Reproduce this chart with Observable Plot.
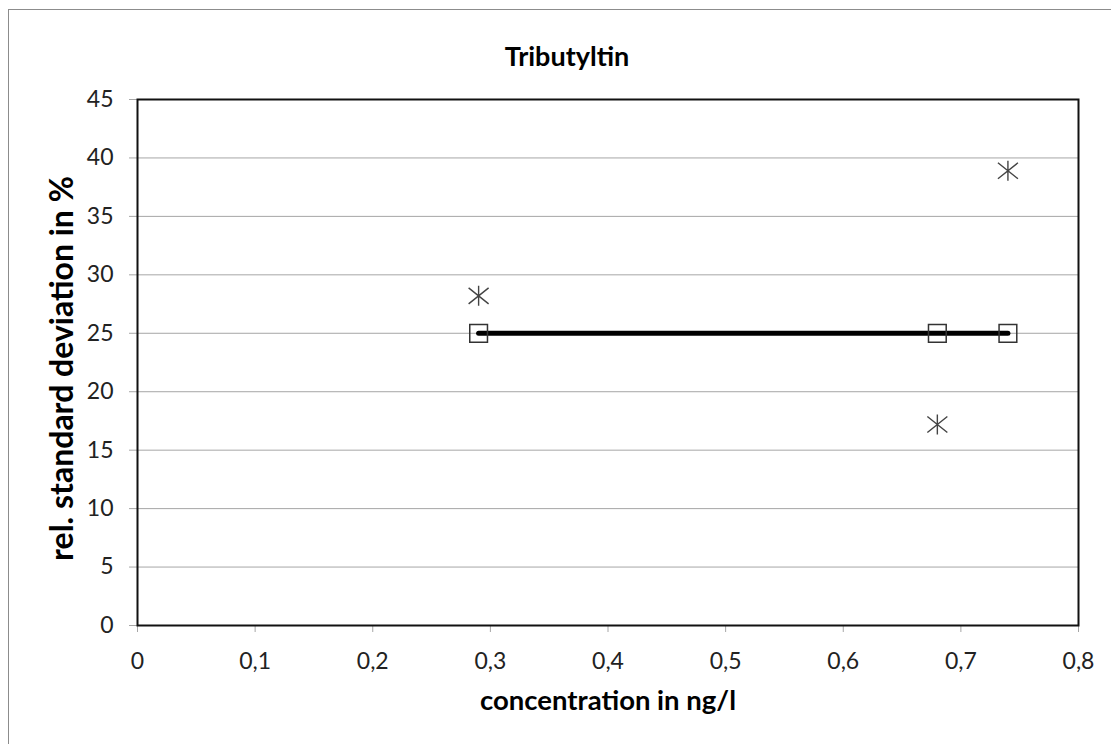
<!DOCTYPE html>
<html>
<head>
<meta charset="utf-8">
<script src="https://cdn.jsdelivr.net/npm/d3@7"></script>
<script src="https://cdn.jsdelivr.net/npm/@observablehq/plot@0.6"></script>
<style>
  html, body { margin: 0; padding: 0; background: #fff; overflow: hidden; }
  #wrap { position: relative; width: 1111px; height: 744px; }
  #border { position: absolute; left: 8px; top: 9px; width: 1200px; height: 900px; border: 1px solid #8c8c8c; box-sizing: border-box; pointer-events: none; }
  svg { display: block; }
</style>
</head>
<body>
<div id="wrap"><div id="border"></div><div id="chart"></div></div>
<script>
// Data
const title = "Tributyltin";
const xLabel = "concentration in ng/l";
const yLabel = "rel. standard deviation in %";
const concentrations = [0.29, 0.68, 0.74];
const rsdValues = [28.2, 17.2, 38.9];
const targetValues = [25, 25, 25];
const xTicks = [0, 0.1, 0.2, 0.3, 0.4, 0.5, 0.6, 0.7, 0.8];
const yTicks = [0, 5, 10, 15, 20, 25, 30, 35, 40, 45];

const rsdData = concentrations.map((c, i) => ({x: c, y: rsdValues[i]}));
const targetData = concentrations.map((c, i) => ({x: c, y: targetValues[i]}));

// Excel-like star marker: vertical line + X
const star = {
  draw(ctx, size) {
    const r = Math.sqrt(size / Math.PI);
    ctx.moveTo(0, -r); ctx.lineTo(0, r);
    ctx.moveTo(-r, -r * 0.8); ctx.lineTo(r, r * 0.8);
    ctx.moveTo(-r, r * 0.8); ctx.lineTo(r, -r * 0.8);
  }
};

const fmt = d => String(d).replace(".", ",");
const font = "Lato, 'Open Sans', sans-serif";

const chart = Plot.plot({
  width: 1111,
  height: 744,
  marginLeft: 137,
  marginRight: 33,
  marginTop: 99,
  marginBottom: 119,
  style: {fontFamily: font, fontSize: "23px", color: "#222", background: "transparent"},
  x: {domain: [0, 0.8]},
  y: {domain: [0, 45]},
  marks: [
    Plot.gridY(yTicks, {stroke: "#a6a6a6", strokeOpacity: 1, strokeWidth: 1}),
    Plot.axisX(xTicks, {tickFormat: fmt, tickSize: 7, tickPadding: 20, stroke: "#a6a6a6", fill: "#222", label: null, fontSize: 23}),
    Plot.axisY(yTicks, {tickFormat: d => String(d), tickSize: 8, tickPadding: 16, stroke: "#a6a6a6", fill: "#222", label: null, fontSize: 23}),
    Plot.frame({stroke: "#111", strokeWidth: 2}),
    Plot.line(targetData, {x: "x", y: "y", stroke: "#000", strokeWidth: 5}),
    Plot.dot(targetData, {x: "x", y: "y", symbol: "square", r: 10, stroke: "#333", strokeWidth: 1.5, fill: "none"}),
    Plot.dot(rsdData, {x: "x", y: "y", symbol: star, r: 10, stroke: "#444", strokeWidth: 1.4, fill: "none"}),
    Plot.text([title], {text: d => d, frameAnchor: "top", dx: -41, dy: -53, textAnchor: "middle", fontWeight: "bold", fontSize: 27, fill: "#000"}),
    Plot.text([xLabel], {text: d => d, frameAnchor: "bottom", dy: 84, textAnchor: "middle", fontWeight: "bold", fontSize: 27.5, fill: "#000"}),
    Plot.text([yLabel], {text: d => d, frameAnchor: "left", dx: -75, dy: 6, textAnchor: "middle", rotate: -90, fontWeight: "bold", fontSize: 32, fill: "#000"})
  ]
});
document.getElementById("chart").appendChild(chart);
</script>
</body>
</html>
